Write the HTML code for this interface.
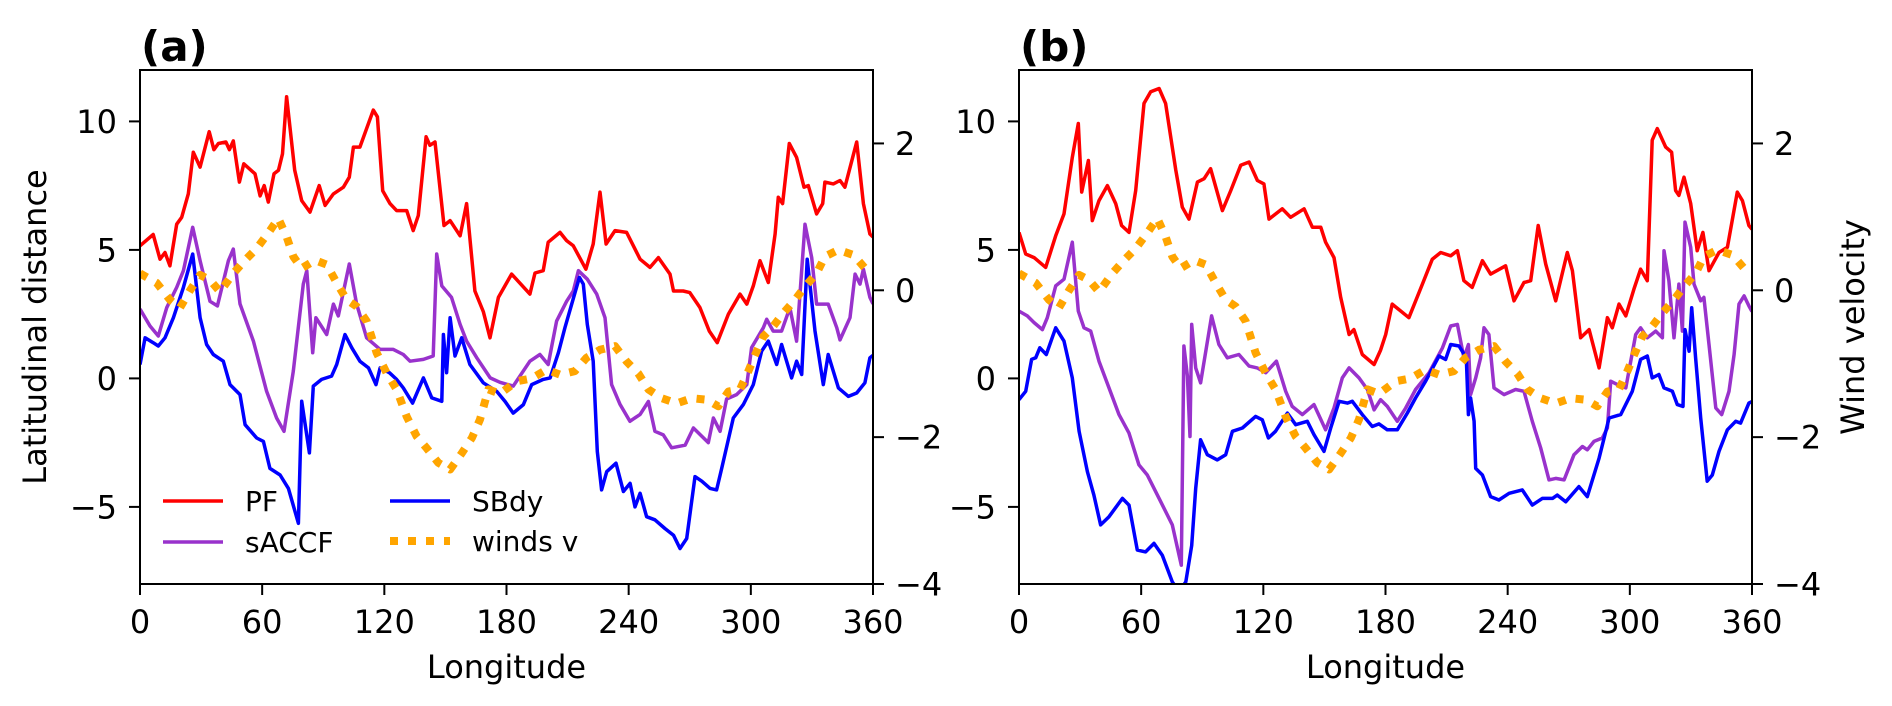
<!DOCTYPE html>
<html><head><meta charset="utf-8"><style>
body{margin:0;background:#fff}
svg{display:block;font-family:"DejaVu Sans","Liberation Sans",sans-serif}
</style></head><body>
<svg id="chart" width="1892" height="706" viewBox="0 0 1892 706">
<defs>
<clipPath id="clipA"><rect x="140" y="70" width="733" height="514"/></clipPath>
<clipPath id="clipB"><rect x="1019" y="70" width="733" height="514"/></clipPath>
</defs>
<g id="root"></g>
</svg>
<script>
// ---- data (lon, value) pairs ----
const xTicks = [0,60,120,180,240,300,360];
const leftTicks = [-5,0,5,10];
const rightTicks = [-4,-2,0,2];
const pfA = [[0,5.16],[6.5,5.6],[9.8,4.64],[12.3,4.9],[14.7,4.38],[18,6.0],[20.5,6.27],[23.7,7.18],[26.2,8.8],[29.5,8.22],[34,9.6],[36.3,8.9],[38.5,9.14],[42.2,9.2],[43.9,8.9],[45.8,9.24],[48.8,7.64],[51,8.35],[56.5,7.96],[59,7.1],[61,7.5],[63,6.86],[65.8,7.96],[68,8.1],[70,8.74],[72,10.96],[76,8.1],[79.4,6.92],[83.5,6.47],[88,7.5],[90.9,6.73],[95,7.18],[99.9,7.44],[102.8,7.83],[104.8,9.0],[108,9.0],[114.6,10.44],[116.6,10.18],[119.2,7.3],[122.8,6.8],[126,6.53],[131,6.53],[134.2,5.75],[136.7,6.34],[140.5,9.4],[142.4,9.07],[144.9,9.2],[149.3,5.95],[152.3,6.14],[157.2,5.55],[160.4,6.8],[164.5,3.4],[168.6,2.6],[171.9,1.58],[176,3.15],[182.5,4.06],[191.5,3.28],[194,4.1],[198,4.19],[200.5,5.3],[206.3,5.68],[209.5,5.36],[212.8,5.16],[219,4.25],[222.6,5.23],[225.9,7.25],[228.9,5.23],[233.3,5.75],[239,5.68],[245.6,4.64],[250.5,4.32],[254.6,4.7],[260.3,4.06],[262,3.4],[266.8,3.4],[270,3.34],[275,2.76],[279.6,1.84],[283.5,1.39],[289,2.5],[294.7,3.28],[298,2.89],[301.2,3.6],[304.5,4.58],[308.6,3.73],[311.9,5.62],[313.5,7.05],[315.6,6.8],[318.9,9.14],[322.5,8.6],[326.1,7.44],[328.2,7.5],[332.3,6.4],[335.3,6.8],[336.4,7.64],[340.5,7.57],[343.8,7.7],[346.2,7.44],[352,9.2],[355.3,6.8],[358.5,5.62],[360,5.5]];
const saccfA = [[0,2.7],[4.9,2.04],[9,1.65],[13.1,2.75],[18,3.54],[21.3,4.19],[25.9,5.88],[29.5,4.58],[34.4,3.0],[38,2.82],[43.4,4.58],[45.8,5.03],[49.1,2.9],[55.7,1.45],[62.2,-0.5],[67.1,-1.54],[70.7,-2.06],[75.3,0.28],[80.2,3.67],[81.9,4.19],[84.8,1.0],[86.4,2.36],[91.7,1.71],[95,2.89],[97.4,2.43],[102.8,4.45],[106.4,2.9],[111.3,1.58],[117.9,1.13],[124.4,1.13],[129.3,0.93],[132.6,0.67],[139.2,0.74],[144,0.87],[145.7,4.84],[148.2,3.6],[153,3.15],[157.2,2.1],[160.4,1.45],[165.4,0.8],[172,0.02],[176.8,-0.15],[183.3,-0.3],[191.5,0.67],[196.4,0.93],[200.5,0.54],[204.6,2.23],[209.5,3.0],[212.8,3.4],[215.3,4.19],[219.7,3.86],[224.3,3.28],[228.4,2.36],[231.6,-0.24],[235.7,-1.0],[240.6,-1.67],[245.6,-1.4],[249.7,-0.9],[252.9,-2.06],[257,-2.2],[261.1,-2.7],[267.7,-2.6],[271.8,-1.93],[279.1,-2.5],[281.6,-1.54],[284.9,-2.06],[288.1,-0.8],[293,-0.63],[298,-0.24],[300.4,1.2],[306.1,1.97],[307.8,2.3],[311,1.84],[315.1,1.84],[319.2,2.75],[322.5,1.45],[326.6,6.0],[329.9,4.7],[332.3,2.89],[338,2.89],[342.2,1.97],[343.8,1.5],[348.7,2.36],[351.2,4.06],[353.6,3.67],[355.3,4.25],[358.5,3.15],[360,2.9]];
const sbdyA = [[0,0.54],[2.5,1.58],[6.5,1.39],[9,1.26],[12.3,1.58],[16.4,2.36],[21.3,3.54],[25.9,4.84],[29.5,2.36],[32.7,1.32],[36,0.93],[40.9,0.67],[44.2,-0.24],[49.1,-0.63],[51.6,-1.8],[57.3,-2.32],[60.6,-2.45],[63.8,-3.5],[68.8,-3.76],[72.9,-4.28],[77.8,-5.64],[79.4,-0.89],[83.2,-2.9],[85.1,-0.3],[89.2,-0.04],[94.1,0.09],[96.6,0.54],[100.7,1.71],[104,1.19],[108,0.67],[112.2,0.41],[115.9,-0.24],[117.9,0.41],[122.5,0.22],[126,-0.04],[129.3,-0.37],[133.9,-0.96],[139.2,0.02],[143.3,-0.76],[148.2,-0.89],[149,1.71],[150.6,0.22],[152.3,2.36],[154.7,0.87],[158,1.58],[162,0.54],[168.6,-0.17],[175.2,-0.5],[179.3,-0.9],[183.3,-1.35],[188.3,-1.02],[192.4,-0.24],[198,-0.04],[201.4,0.02],[205.5,1.0],[208.7,1.97],[212,2.89],[215.8,3.93],[217.7,3.67],[219.7,2.1],[222.6,0.67],[224.6,-2.84],[226.7,-4.34],[229.2,-3.63],[233.8,-3.3],[237.4,-4.4],[240.7,-4.08],[243.1,-5.0],[245.6,-4.47],[248.8,-5.38],[252.9,-5.5],[257.8,-5.84],[262,-6.1],[265.2,-6.62],[268.5,-6.23],[272.6,-3.82],[275.9,-4.0],[280,-4.28],[283.2,-4.34],[285.7,-3.5],[291.4,-1.54],[296.3,-1.02],[301.2,-0.24],[305.3,1.06],[308.6,1.45],[312.7,0.54],[315.1,1.32],[320,0.02],[322.5,0.67],[325,0.15],[327.7,4.64],[331.5,1.84],[335.6,-0.24],[338,0.93],[343,-0.37],[347.9,-0.7],[352,-0.57],[356,-0.17],[358.5,0.8],[360,0.9]];
const windsV = [[0,0.23],[8.2,0.1],[14.7,-0.13],[19.6,-0.24],[24.6,0.0],[29.5,0.21],[34.4,0.14],[39.3,-0.02],[45.8,0.23],[51.6,0.41],[57.3,0.57],[63,0.78],[67.9,0.98],[72,0.73],[75.3,0.46],[79.4,0.3],[86,0.41],[91.7,0.35],[96.6,0.1],[101.5,-0.13],[106.4,-0.22],[111.3,-0.42],[116.2,-0.85],[121.2,-1.13],[126,-1.35],[131,-1.72],[135.9,-1.99],[140.8,-2.15],[146.5,-2.35],[152.3,-2.44],[158,-2.22],[163,-2.01],[167,-1.76],[171.1,-1.35],[176.8,-1.41],[185,-1.24],[192.4,-1.2],[199.7,-1.08],[206.3,-1.15],[213.6,-1.1],[219.3,-0.92],[225.9,-0.81],[233.3,-0.76],[239,-0.97],[244.7,-1.13],[249.7,-1.35],[256.2,-1.47],[263.6,-1.54],[271,-1.47],[278.3,-1.49],[284,-1.58],[289,-1.38],[294.7,-1.35],[298.8,-1.1],[302.1,-0.88],[306.1,-0.63],[311,-0.49],[316,-0.31],[321.7,-0.13],[326.6,0.05],[332.3,0.23],[336.4,0.46],[343,0.55],[350.4,0.48],[356.1,0.3],[360,0.3]];
const pfB = [[0,5.68],[3.3,4.84],[7.4,4.7],[13.1,4.32],[18,5.55],[22.1,6.4],[26.2,8.6],[29.1,9.92],[30.8,7.25],[34.1,8.48],[36,6.14],[39.3,6.92],[43.4,7.5],[47.5,6.8],[50.4,5.95],[54,5.68],[57.3,7.31],[61.4,10.7],[64.7,11.15],[68.8,11.28],[72,10.7],[77,8.1],[80.2,6.66],[83.5,6.2],[87.6,7.64],[90.9,7.77],[94.1,8.16],[99.9,6.53],[104,7.31],[108.9,8.29],[113,8.42],[117.1,7.7],[120.3,7.57],[122.8,6.2],[129.3,6.6],[133.4,6.27],[140,6.6],[144.1,5.88],[148.2,5.88],[150.6,5.3],[154.7,4.7],[158,3.15],[162.1,1.71],[164.5,1.9],[168.6,0.93],[174.4,0.54],[177.6,1.1],[180.1,1.71],[183.3,2.89],[191.5,2.36],[198.1,3.67],[203,4.64],[207.1,4.9],[212,4.77],[215.3,4.97],[218.5,3.8],[222.6,3.54],[227.6,4.58],[231.6,4.06],[239,4.38],[243.1,3.02],[248,3.73],[251.3,3.8],[255,5.95],[258.7,4.45],[263.6,3.02],[269.3,4.9],[271.8,4.19],[275.8,1.58],[280,1.9],[284.9,0.41],[289,2.36],[291.4,1.97],[294.7,2.89],[298,2.43],[302,3.47],[305.3,4.25],[308.6,3.8],[311,9.27],[313.5,9.72],[317.6,9.0],[320.5,8.8],[322.5,7.31],[324.1,7.12],[326.6,7.83],[329.9,6.8],[333.1,4.97],[335.9,5.68],[338.9,4.19],[343.8,4.9],[347.9,5.1],[352.8,7.25],[355.3,6.92],[358.5,5.95],[360,5.8]];
const saccfB = [[0,2.62],[4.1,2.43],[7.4,2.17],[11.5,1.9],[13.9,2.36],[18,3.6],[22.1,3.86],[26.2,5.3],[29.1,2.62],[31.9,1.97],[35.2,1.84],[39.3,0.67],[44.2,-0.37],[49.1,-1.41],[54,-2.13],[58.9,-3.36],[63,-3.76],[68.8,-4.67],[75.3,-5.7],[79.7,-7.27],[81,1.26],[82.7,0.09],[84,-2.26],[84.8,2.1],[86.8,0.41],[89.2,-0.17],[94.6,2.43],[98.2,1.32],[102.3,0.8],[108,0.93],[113,0.48],[117,0.41],[121.2,0.22],[126.4,0.67],[131,-0.5],[134.2,-1.09],[139.2,-1.41],[144.9,-1.02],[150.6,-2.0],[154.7,-1.15],[158.8,0.02],[162.1,0.41],[167,0.02],[171.1,-0.43],[174.4,-1.22],[177.6,-0.83],[180.9,-1.09],[185.8,-1.67],[189.9,-1.15],[194.8,-0.43],[201.4,0.22],[208,1.19],[212,2.04],[215.3,2.1],[218.5,0.8],[220.7,1.32],[221.8,-0.63],[224.3,0.02],[226.7,0.8],[228.4,1.97],[230.8,1.71],[233.3,-0.37],[238.2,-0.63],[243.9,-0.43],[248,-0.5],[252.1,-1.67],[256.2,-2.71],[260.3,-3.95],[263.6,-3.89],[267.7,-3.95],[272.6,-2.97],[276.7,-2.65],[279.1,-2.78],[282.4,-2.45],[286.5,-2.32],[289,-1.93],[290.6,-0.11],[293.9,-0.24],[298,-0.37],[302.9,1.71],[305.3,1.97],[308.6,1.58],[312.7,1.84],[316,1.58],[316.8,4.97],[319.2,3.8],[321.7,1.58],[324.1,3.67],[325.8,1.84],[327.1,6.08],[329.9,5.1],[331.5,3.67],[334.8,3.02],[336.4,3.15],[338.9,1.32],[342.2,-1.15],[345.1,-1.41],[348.7,-0.5],[351.2,0.93],[353.6,2.89],[356.1,3.21],[358.5,2.82],[360,2.6]];
const sbdyB = [[0,-0.83],[3.3,-0.5],[6.2,0.74],[8.2,0.8],[10.2,1.19],[13.4,0.93],[18,1.97],[22.1,1.45],[26.2,0.02],[29.5,-2.06],[33.6,-3.63],[36.8,-4.54],[40.1,-5.7],[44.2,-5.38],[50.8,-4.67],[54,-4.93],[58.1,-6.68],[62.2,-6.75],[66.3,-6.42],[70.4,-6.88],[75.3,-7.92],[78.6,-8.3],[81.9,-7.92],[84.8,-6.5],[86.8,-4.28],[89.2,-2.39],[92.5,-2.97],[97.4,-3.17],[101.5,-2.97],[104.8,-2.06],[109.7,-1.93],[116.2,-1.48],[119.5,-1.61],[122.5,-2.32],[126,-2.06],[131.8,-1.35],[135.9,-1.8],[141.6,-1.67],[144.9,-2.19],[149.8,-2.84],[153.1,-1.93],[157.2,-0.89],[161.3,-0.96],[163.7,-0.89],[168.6,-1.41],[173.5,-1.87],[176.8,-1.77],[180.9,-2.0],[185.8,-2.0],[190.7,-1.35],[194.8,-0.76],[199.7,-0.11],[206.3,0.87],[209.5,0.74],[212,1.32],[216.1,1.26],[219.7,0.8],[220.7,-1.41],[221.8,-0.76],[223.5,-1.67],[224.3,-3.5],[227.6,-3.76],[231.6,-4.6],[235.7,-4.73],[240.7,-4.47],[247.2,-4.34],[252.1,-4.93],[257,-4.67],[262,-4.67],[264.4,-4.54],[268.5,-4.8],[275,-4.21],[279.1,-4.6],[284.9,-3.1],[289.8,-1.54],[295.5,-1.41],[301.2,-0.5],[305.3,0.74],[308.6,0.87],[311,0.02],[314.3,0.15],[316.8,-0.37],[320.9,-0.5],[323.3,-1.02],[326.1,-1.09],[327.1,1.9],[329.1,1.06],[330.4,2.75],[332.3,0.8],[334.8,-1.54],[338,-4.0],[340.5,-3.76],[343.8,-2.84],[347.9,-2.0],[352,-1.67],[354.4,-1.74],[358.5,-0.96],[360,-0.9]];

const NS='http://www.w3.org/2000/svg';
const root=document.getElementById('root');
function mk(tag,attrs,parent){const e=document.createElementNS(NS,tag);for(const k in attrs)e.setAttribute(k,attrs[k]);(parent||root).appendChild(e);return e;}
const Y0=70,Y1=584;
function xs(p,lon){return p.x0+(lon/360)*(p.x1-p.x0);}
function yl(v){return Y1-(v+8)/20*(Y1-Y0);}
function yr(v){return Y1-(v+4)/7*(Y1-Y0);}

const panels=[
 {id:'a',x0:140,x1:873,clip:'clipA',pf:pfA,sa:saccfA,sb:sbdyA,title:'(a)'},
 {id:'b',x0:1019,x1:1752,clip:'clipB',pf:pfB,sa:saccfB,sb:sbdyB,title:'(b)'}
];
function path(p,arr,yf){return arr.map((d,i)=>(i?'L':'M')+xs(p,d[0]).toFixed(1)+','+yf(d[1]).toFixed(1)).join('');}

panels.forEach(p=>{
  const g=mk('g',{});
  
  
  const lines=mk('g',{'clip-path':'url(#'+p.clip+')'},g);
  const series=[['winds-v-line',windsV,yr,'#ffa500',8,'8 10'],['pf-line',p.pf,yl,'#ff0000',3.5,null],['saccf-line',p.sa,yl,'#9932cc',3.5,null],['sbdy-line',p.sb,yl,'#0000ff',3.5,null]];
  [series[1],series[2],series[3],series[0]].forEach(s=>{
    const e=mk('path',{d:path(p,s[1],s[2]),fill:'none',stroke:s[3],'stroke-width':s[4],'stroke-linejoin':'round'},lines);
    if(s[5])e.setAttribute('stroke-dasharray',s[5]);
    
    
  });
  const fr=mk('rect',{x:p.x0,y:Y0,width:p.x1-p.x0,height:Y1-Y0,fill:'none',stroke:'#000','stroke-width':2},g);
  
  
  xTicks.forEach(t=>{
    const x=xs(p,t);
    mk('line',{x1:x,x2:x,y1:Y1,y2:Y1+11,stroke:'#000','stroke-width':2},g);
    const tx=mk('text',{x:x,y:633,'font-size':32,'text-anchor':'middle'},g);
    tx.textContent=t;
    
    
  });
  leftTicks.forEach(t=>{
    const y=yl(t);
    mk('line',{x1:p.x0-11,x2:p.x0,y1:y,y2:y,stroke:'#000','stroke-width':2},g);
    const tx=mk('text',{x:p.x0-23,y:y+11.5,'font-size':32,'text-anchor':'end'},g);
    tx.textContent=t<0?'\u2212'+(-t):t;
    
    
  });
  rightTicks.forEach(t=>{
    const y=yr(t);
    mk('line',{x1:p.x1,x2:p.x1+11,y1:y,y2:y,stroke:'#000','stroke-width':2},g);
    const tx=mk('text',{x:p.x1+22,y:y+11.5,'font-size':32},g);
    tx.textContent=t<0?'\u2212'+(-t):t;
    
    
  });
  const xl=mk('text',{x:(p.x0+p.x1)/2,y:678,'font-size':32,'text-anchor':'middle'},g);
  xl.textContent='Longitude';
  
  
  const ti=mk('text',{x:p.x0+1,y:61,'font-size':42,'font-weight':'bold'},g);
  ti.textContent=p.title;
  
  
});
const yt=mk('text',{x:0,y:0,'font-size':32,'text-anchor':'middle',transform:'translate(46,327) rotate(-90)'});
yt.textContent='Latitudinal distance';


const yt2=mk('text',{x:0,y:0,'font-size':32,'text-anchor':'middle',transform:'translate(1864,327) rotate(-90)'});
yt2.textContent='Wind velocity';



const lg=mk('g',{});


const entries=[['PF','#ff0000',163,501,3.5,null],['sACCF','#9932cc',163,542,3.5,null],['SBdy','#0000ff',390,501,3.5,null],['winds v','#ffa500',390,541,8,'8 10']];
entries.forEach(e=>{
  const eg=mk('g',{},lg);
  
  
  const l=mk('line',{x1:e[2],x2:e[2]+60,y1:e[3],y2:e[3],stroke:e[1],'stroke-width':e[4]},eg);
  if(e[5])l.setAttribute('stroke-dasharray',e[5]);
  const t=mk('text',{x:e[2]+82,y:e[3]+10,'font-size':28},eg);
  t.textContent=e[0];
});
</script>
</body></html>
